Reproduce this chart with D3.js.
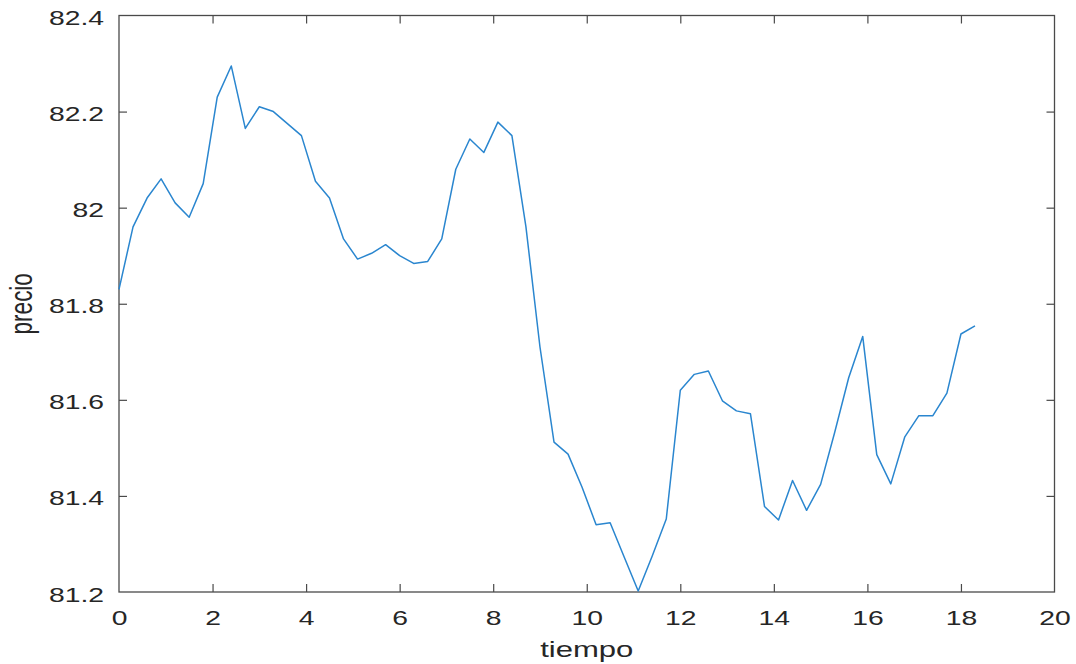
<!DOCTYPE html>
<html>
<head>
<meta charset="utf-8">
<script src="https://cdn.jsdelivr.net/npm/d3@7/dist/d3.min.js"></script>
<style>
  html, body { margin: 0; padding: 0; background: #fff; }
  svg { display: block; }
</style>
</head>
<body>
<svg id="chart" width="1076" height="664"></svg>
<script>
const tiempo = [0, 0.3, 0.6, 0.9, 1.2, 1.5, 1.8, 2.1, 2.4, 2.7,
  3.0, 3.3, 3.6, 3.9, 4.2, 4.5, 4.8, 5.1, 5.4, 5.7,
  6.0, 6.3, 6.6, 6.9, 7.2, 7.5, 7.8, 8.1, 8.4, 8.7,
  9.0, 9.3, 9.6, 9.9, 10.2, 10.5, 10.8, 11.1, 11.4, 11.7,
  12.0, 12.3, 12.6, 12.9, 13.2, 13.5, 13.8, 14.1, 14.4, 14.7,
  15.0, 15.3, 15.6, 15.9, 16.2, 16.5, 16.8, 17.1, 17.4, 17.7,
  18.0, 18.3];
const precio = [81.83, 81.96, 82.02, 82.06, 82.01, 81.98, 82.05, 82.23, 82.295, 82.165,
  82.21, 82.20, 82.175, 82.15, 82.055, 82.02, 81.935, 81.893, 81.905, 81.923,
  81.90, 81.884, 81.888, 81.935, 82.08, 82.143, 82.115, 82.178, 82.15, 81.96,
  81.71, 81.512, 81.487, 81.418, 81.34, 81.344, 81.273, 81.202, 81.275, 81.352,
  81.62, 81.653, 81.66, 81.598, 81.577, 81.571, 81.378, 81.35, 81.432, 81.37,
  81.424, 81.532, 81.646, 81.732, 81.486, 81.425, 81.523, 81.567, 81.567, 81.614,
  81.737, 81.754];
const xTicks = [0, 2, 4, 6, 8, 10, 12, 14, 16, 18, 20];
const yTicks = [81.2, 81.4, 81.6, 81.8, 82, 82.2, 82.4];
const xLabel = "tiempo";
const yLabel = "precio";

const mLeft = 119, mRight = 1054.5, mTop = 15.5, mBottom = 592;
const SX = 1.38;           // horizontal stretch of the original picture
const tickFont = 20.5, labelFont = 22.5;
const axisColor = "#4a4a4a", textColor = "#262626";

const svg = d3.select("#chart");
const x = d3.scaleLinear().domain([0, 20]).range([mLeft, mRight]);
const y = d3.scaleLinear().domain([81.2, 82.4]).range([mBottom, mTop]);

const fmt = d => String(+d.toFixed(1));

function styleAxis(g, hideText) {
  g.select(".domain").remove();
  g.selectAll(".tick line").attr("stroke", axisColor).attr("stroke-width", 1.2);
  if (hideText) g.selectAll(".tick text").remove();
}

// bottom axis (inner ticks)
const gx = svg.append("g").attr("transform", `translate(0,${mBottom})`)
  .call(d3.axisBottom(x).tickValues(xTicks).tickSizeInner(-8).tickSizeOuter(0).tickFormat(fmt));
styleAxis(gx, false);
gx.selectAll(".tick").filter(d => d === 0 || d === 20).select("line").remove();
gx.selectAll(".tick text")
  .attr("x", null).attr("y", null).attr("dy", null)
  .attr("transform", `translate(0,33) scale(${SX},1)`)
  .attr("text-anchor", "middle")
  .attr("fill", textColor)
  .style("font-family", "'Liberation Sans', Arial, sans-serif")
  .style("font-size", tickFont + "px");

// top axis ticks
const gxt = svg.append("g").attr("transform", `translate(0,${mTop})`)
  .call(d3.axisTop(x).tickValues(xTicks.filter(d => d !== 0 && d !== 20)).tickSizeInner(-8).tickSizeOuter(0));
styleAxis(gxt, true);

// left axis
const gy = svg.append("g").attr("transform", `translate(${mLeft},0)`)
  .call(d3.axisLeft(y).tickValues(yTicks).tickSizeInner(-8).tickSizeOuter(0).tickFormat(fmt));
styleAxis(gy, false);
gy.selectAll(".tick").filter(d => d === 81.2 || d === 82.4).select("line").remove();
gy.selectAll(".tick text")
  .attr("x", null).attr("y", null).attr("dy", null)
  .attr("transform", `translate(-15,9) scale(${SX},1)`)
  .attr("text-anchor", "end")
  .attr("fill", textColor)
  .style("font-family", "'Liberation Sans', Arial, sans-serif")
  .style("font-size", tickFont + "px");

// right axis ticks
const gyr = svg.append("g").attr("transform", `translate(${mRight},0)`)
  .call(d3.axisRight(y).tickValues(yTicks.filter(d => d !== 81.2 && d !== 82.4)).tickSizeInner(-8).tickSizeOuter(0));
styleAxis(gyr, true);

// box
svg.append("rect")
  .attr("x", mLeft).attr("y", mTop)
  .attr("width", mRight - mLeft).attr("height", mBottom - mTop)
  .attr("fill", "none").attr("stroke", axisColor).attr("stroke-width", 1.3);

// line
const data = tiempo.map((t, i) => [t, precio[i]]);
svg.append("path")
  .datum(data)
  .attr("fill", "none")
  .attr("stroke", "#2a86cf")
  .attr("stroke-width", 1.5)
  .attr("stroke-linejoin", "round")
  .attr("d", d3.line().x(d => x(d[0])).y(d => y(d[1])));

// axis labels
svg.append("text")
  .attr("transform", `translate(${(mLeft + mRight) / 2},657) scale(${SX},1)`)
  .attr("text-anchor", "middle")
  .attr("fill", textColor)
  .style("font-family", "'Liberation Sans', Arial, sans-serif")
  .style("font-size", labelFont + "px")
  .text(xLabel);

svg.append("text")
  .attr("transform", `translate(32,${(mTop + mBottom) / 2}) scale(${SX},1) rotate(-90)`)
  .attr("text-anchor", "middle")
  .attr("fill", textColor)
  .style("font-family", "'Liberation Sans', Arial, sans-serif")
  .style("font-size", labelFont + "px")
  .text(yLabel);
</script>
</body>
</html>
